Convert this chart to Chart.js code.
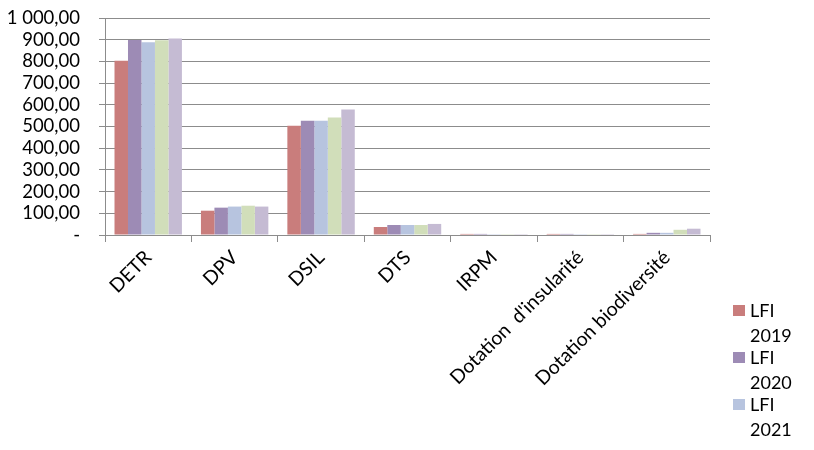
<!DOCTYPE html>
<html>
<head>
<meta charset="utf-8">
<script src="https://cdn.jsdelivr.net/npm/chart.js@4/dist/chart.umd.min.js"></script>
<style>
html,body{margin:0;padding:0;background:#fff;}
canvas{display:block;}
</style>
</head>
<body>
<canvas id="c" width="814" height="450"></canvas>
<script>
const categories = ['DETR', 'DPV', 'DSIL', 'DTS', 'IRPM', "Dotation  d'insularité", 'Dotation biodiversité'];
const seriesNames = ['LFI 2019', 'LFI 2020', 'LFI 2021', 'LFI 2022', 'LFI 2023'];
const lfi2019 = [803, 112, 504, 37, 5, 5, 5];
const lfi2020 = [899, 126, 527, 46, 5, 5, 10];
const lfi2021 = [888, 131, 527, 46, 4, 4, 10];
const lfi2022 = [898, 135, 541, 46, 4, 4, 24];
const lfi2023 = [905, 131, 578, 51, 4, 4, 29];
const colors = ['#C97D7C', '#9D8BB5', '#B7C4DF', '#D1DEBA', '#C5BBD3'];
const FONT = 'Lato';

function fmt(v) {
  if (v === 0) return '-';
  const parts = v.toFixed(2).split('.');
  const intPart = parts[0].replace(/\B(?=(\d{3})+(?!\d))/g, ' ');
  return intPart + ',' + parts[1];
}

const legendPlugin = {
  id: 'customLegend',
  afterDraw(chart) {
    const ctx = chart.ctx;
    ctx.save();
    ctx.font = '18px ' + FONT;
    ctx.textBaseline = 'alphabetic';
    const shown = 3;
    for (let i = 0; i < shown; i++) {
      const y0 = 305 + i * 47;
      ctx.fillStyle = chart.data.datasets[i].backgroundColor;
      ctx.fillRect(733, y0, 12, 11);
      ctx.fillStyle = '#000';
      const words = chart.data.datasets[i].label.split(' ');
      ctx.fillText(words[0], 750, y0 + 12);
      ctx.fillText(words[1], 750, y0 + 37);
    }
    ctx.restore();
  }
};

const data = {
  labels: categories,
  datasets: [lfi2019, lfi2020, lfi2021, lfi2022, lfi2023].map((d, i) => ({
    label: seriesNames[i],
    data: d,
    backgroundColor: colors[i],
    borderWidth: 0,
    barPercentage: 1.0,
    categoryPercentage: 0.78
  }))
};

new Chart(document.getElementById('c'), {
  type: 'bar',
  data: data,
  plugins: [legendPlugin],
  options: {
    responsive: false,
    animation: false,
    layout: { padding: { left: 0, right: 104, top: 18, bottom: 0 } },
    plugins: { legend: { display: false }, tooltip: { enabled: false } },
    scales: {
      x: {
        afterFit(s) { s.height = 215; },
        grid: { display: true, drawOnChartArea: false, drawTicks: true, tickLength: 7, color: '#8C8C8C', offset: true },
        border: { display: true, color: '#8C8C8C', width: 1 },
        ticks: { autoSkip: false, maxRotation: 45, minRotation: 45, color: '#000', font: { family: FONT, size: 19.5 }, padding: 4 }
      },
      y: {
        min: 0, max: 1000,
        afterFit(s) { s.width = 105; s.paddingTop = 10; s.paddingBottom = 10; },
        grid: { color: '#8C8C8C', tickLength: 6, drawTicks: true },
        border: { display: true, color: '#8C8C8C', width: 1 },
        ticks: { stepSize: 100, autoSkip: false, color: '#000', font: { family: FONT, size: 18.5 }, padding: 19, callback: (v) => fmt(v) }
      }
    }
  }
});
</script>
</body>
</html>
